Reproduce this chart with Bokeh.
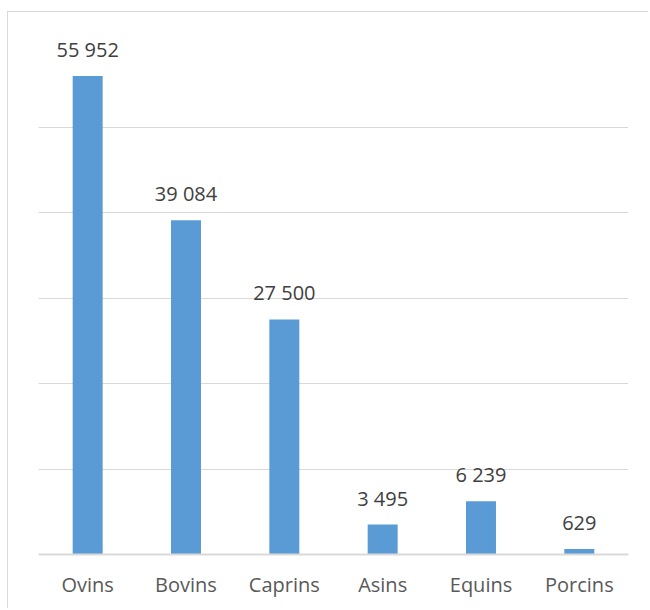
from bokeh.plotting import figure
from bokeh.models import ColumnDataSource, LabelSet, Range1d, FixedTicker
from bokeh.core.properties import value
from bokeh.embed import file_html
from bokeh.resources import INLINE

categories = ["Ovins", "Bovins", "Caprins", "Asins", "Equins", "Porcins"]
values = [55952, 39084, 27500, 3495, 6239, 629]
value_labels = ["55 952", "39 084", "27 500", "3 495", "6 239", "629"]

src = ColumnDataSource(dict(cat=categories, val=values, lab=value_labels))

p = figure(x_range=categories, y_range=Range1d(0, 60000),
           width=641, height=597, output_backend="svg", toolbar_location=None,
           min_border_left=30, min_border_right=21, min_border_top=29, min_border_bottom=55,
           margin=(11, 0, 0, 7),
           styles={"border-left": "1px solid #d9d9d9", "border-top": "1px solid #d9d9d9"})
p.x_range.range_padding = 0
p.vbar(x="cat", top="val", width=0.305, source=src, color="#5b9bd5", line_color=None)

labels = LabelSet(x="cat", y="val", text="lab", source=src, y_offset=19,
                  text_align="center", text_baseline="alphabetic",
                  text_font=value("Open Sans"), text_font_size="20px", text_color="#404040")
p.add_layout(labels)

p.yaxis.visible = False
p.ygrid.ticker = FixedTicker(ticks=[0, 10000, 20000, 30000, 40000, 50000, 60000])
p.ygrid.grid_line_color = "#d9d9d9"
p.ygrid.grid_line_width = 1
p.xgrid.grid_line_color = None
p.outline_line_color = None

p.xaxis.axis_line_color = "#d9d9d9"
p.xaxis.axis_line_width = 2
p.xaxis.major_tick_line_color = None
p.xaxis.minor_tick_line_color = None
p.xaxis.major_label_standoff = 10
p.xaxis.major_label_text_font = "Open Sans"
p.xaxis.major_label_text_font_size = "20px"
p.xaxis.major_label_text_color = "#595959"

open("out.html", "w").write(file_html(p, INLINE))
